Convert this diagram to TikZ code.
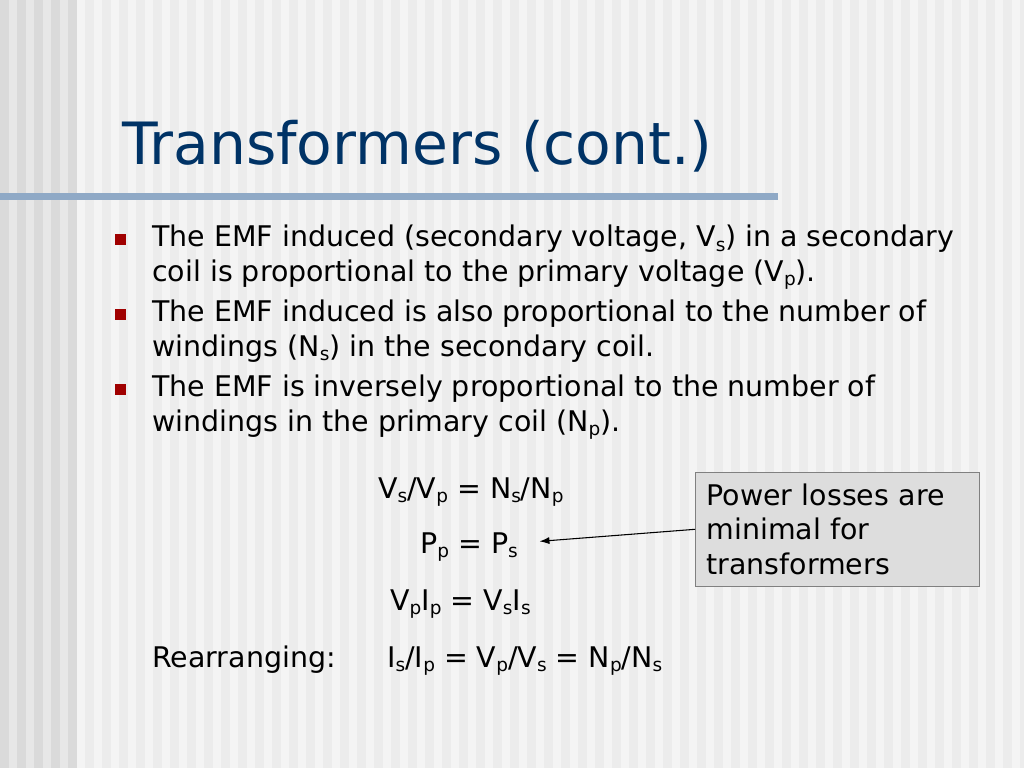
\documentclass[tikz,border=0pt]{standalone}
\usepackage{fontspec}
\setmainfont{DejaVu Sans}
\usetikzlibrary{arrows.meta}
\definecolor{navy}{RGB}{0,51,102}
\definecolor{barblue}{RGB}{143,169,198}
\definecolor{bulletred}{RGB}{160,0,0}
\definecolor{boxgray}{RGB}{221,221,221}
\definecolor{stripedark}{RGB}{218,218,218}
\definecolor{stripemid}{RGB}{231,231,231}
\definecolor{stripelight}{RGB}{244,244,244}
\definecolor{stripepale}{RGB}{236,236,236}
\newcommand{\sbs}[1]{\raisebox{-3.5pt}{\fontsize{13}{13}\selectfont #1}}

\begin{document}
\begin{tikzpicture}[x=0.703125pt, y=-0.703125pt,
        txt/.style={anchor=base west, inner sep=0pt, align=left, font=\fontsize{20}{24}\selectfont},
        sq/.style={fill=bulletred, minimum size=7.7pt, inner sep=0pt},
        note/.style={draw=gray, fill=boxgray, anchor=north west, align=left, inner xsep=7.7pt,
            text width=184pt, minimum width=199.7pt, minimum height=80.2pt, font=\fontsize{20}{24}\selectfont}]
    \useasboundingbox (0,0) rectangle (1024,768);
    % background
    \fill[stripemid] (0,0) rectangle (77,768);
    \foreach \x in {0,17,...,68}
        \fill[stripedark] (\x,0) rectangle +(8.5,768);
    \fill[stripelight] (77,0) rectangle (1024,768);
    \foreach \x in {85,102,...,1020}
        \fill[stripepale] (\x,0) rectangle +(8.5,768);
    \fill[barblue] (0,193) rectangle (778,200);

    \node[anchor=base west, inner sep=0pt, text=navy, font=\fontsize{41}{48}\selectfont] (title) at (122,165) {Transformers (cont.)};

    % bullets (multi-line nodes sit on their last baseline)
    \node[sq] (sq1) at (120.5,239.5) {};
    \node[sq] (sq2) at (120.5,314.5) {};
    \node[sq] (sq3) at (120.5,389.5) {};
    \node[txt] (b1) at (152,281) {The EMF induced (secondary voltage, V\sbs{s}) in a secondary\\coil is proportional to the primary voltage (V\sbs{p}).};
    \node[txt] (b2) at (152,356) {The EMF induced is also proportional to the number of\\windings (N\sbs{s}) in the secondary coil.};
    \node[txt] (b3) at (152,431) {The EMF is inversely proportional to the number of\\windings in the primary coil (N\sbs{p}).};

    \node[txt] (ratio) at (378,498) {V\sbs{s}/V\sbs{p} = N\sbs{s}/N\sbs{p}};
    \node[txt] (power) at (420,553) {P\sbs{p} = P\sbs{s}};
    \node[txt] (product) at (390,610) {V\sbs{p}I\sbs{p} = V\sbs{s}I\sbs{s}};
    \node[txt] (rearr) at (152,667) {Rearranging:};
    \node[txt] (current) at (387,667) {I\sbs{s}/I\sbs{p} = V\sbs{p}/V\sbs{s} = N\sbs{p}/N\sbs{s}};

    \node[note] (loss) at (695,472) {Power losses are\\minimal for\\transformers};

    \draw[-{Latex[length=7pt,width=5pt]}, line width=0.75pt] (loss.west) -- ([xshift=15pt,yshift=4pt]power.east);
\end{tikzpicture}
\end{document}
